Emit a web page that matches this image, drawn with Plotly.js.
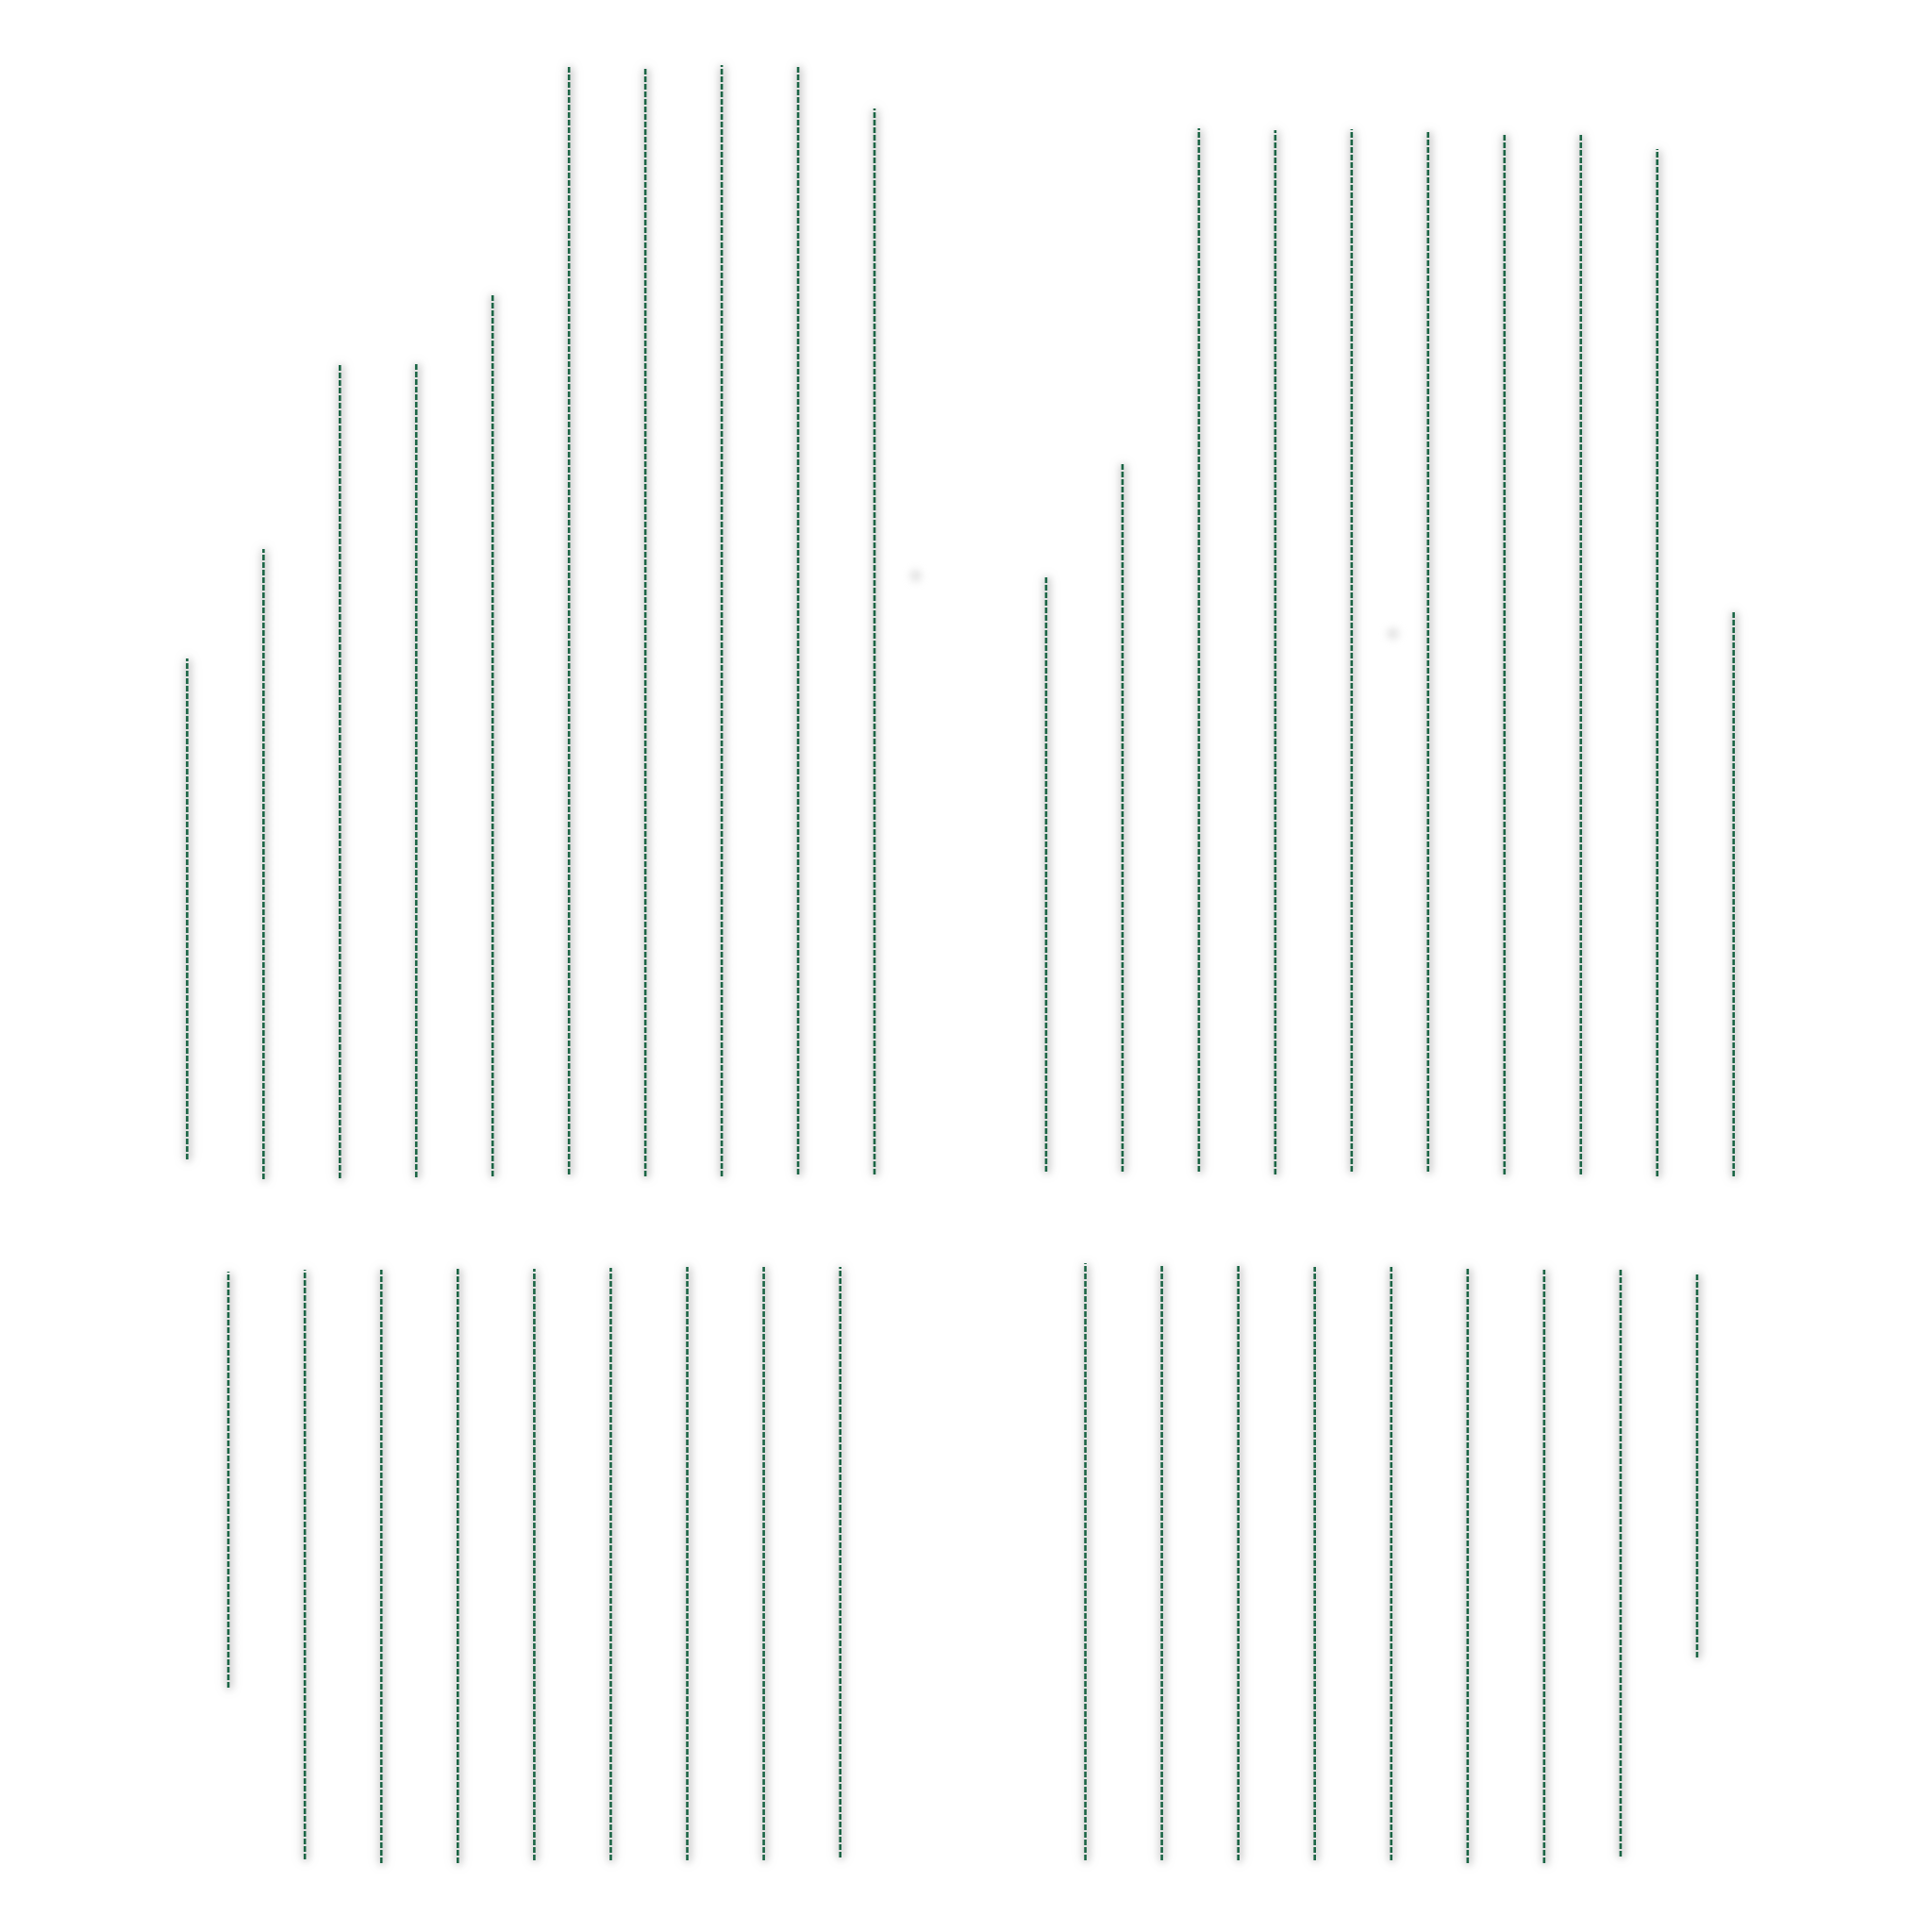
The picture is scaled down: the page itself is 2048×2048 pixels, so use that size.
<!DOCTYPE html>
<html>
<head>
<meta charset="utf-8">
<script src="https://cdn.plot.ly/plotly-3.0.1.min.js"></script>
<style>
  html, body { margin: 0; padding: 0; background: #fff; }
  #plot { width: 2048px; height: 2048px; }
  #plot .scatterlayer .js-line {
    filter: drop-shadow(1px 1px 4px rgba(0,0,0,0.5)) drop-shadow(0 0 6px rgba(0,0,0,0.25));
  }
  #plot .scatterlayer .point { filter: blur(4px); }
</style>
</head>
<body>
<div id="plot"></div>
<script>
// top row: stems rising from the baseline
var topLeftLow   = [3.1, 1.0, 1.1, 1.2, 1.3, 1.5, 1.3, 1.3, 1.5, 1.5];
var topLeftHigh  = [56.2, 67.8, 87.3, 87.4, 94.9, 119.0, 118.9, 119.1, 119.0, 114.5];
var topRightLow  = [1.8, 1.8, 1.8, 1.5, 1.8, 1.8, 1.5, 1.5, 1.3, 1.3];
var topRightHigh = [64.8, 76.9, 112.4, 112.2, 112.3, 112.2, 111.9, 111.9, 110.2, 61.1];

// bottom row: stems hanging from the top
var botLeftLow   = [20.1, 1.9, 1.5, 1.5, 1.8, 1.8, 1.8, 1.8, 2.1];
var botLeftHigh  = [64.2, 64.4, 64.4, 64.5, 64.5, 64.6, 64.7, 64.7, 64.7];
var botRightLow  = [1.8, 1.8, 1.8, 1.8, 1.8, 1.5, 1.5, 2.2, 23.3];
var botRightHigh = [65.1, 64.9, 65.0, 64.7, 64.7, 64.6, 64.4, 64.4, 64.1];

// two faint dots (percent of page)
var dotX = [47.4, 72.1];
var dotY = [70.2, 67.2];

var lineColor = '#1a6444';

function stems(low, high, xa, ya) {
  var x = [], y = [];
  for (var i = 0; i < low.length; i++) {
    x.push(i, i, null);
    y.push(low[i], high[i], null);
  }
  return {
    x: x, y: y,
    xaxis: xa, yaxis: ya,
    type: 'scatter',
    mode: 'lines',
    connectgaps: false,
    line: {color: lineColor, width: 2.6, dash: '6px,2px'},
    hoverinfo: 'skip',
    showlegend: false
  };
}

var data = [
  stems(topLeftLow, topLeftHigh, 'x', 'y'),
  stems(topRightLow, topRightHigh, 'x2', 'y2'),
  stems(botLeftLow, botLeftHigh, 'x3', 'y3'),
  stems(botRightLow, botRightHigh, 'x4', 'y4'),
  {
    x: dotX, y: dotY,
    xaxis: 'x5', yaxis: 'y5',
    type: 'scatter',
    mode: 'markers',
    marker: {size: 12, color: 'rgba(190,190,190,0.5)'},
    hoverinfo: 'skip',
    showlegend: false
  }
];

function hidden(domain, range, anchor) {
  return {domain: domain, range: range, anchor: anchor, visible: false, fixedrange: true};
}

var layout = {
  width: 2048,
  height: 2048,
  margin: {l: 0, r: 0, t: 0, b: 0},
  paper_bgcolor: '#fff',
  plot_bgcolor: 'rgba(0,0,0,0)',
  xaxis:  hidden([0.0771, 0.4724], [-0.5, 9.5], 'y'),
  yaxis:  hidden([0.3848, 0.9707], [0, 120], 'x'),
  xaxis2: hidden([0.5217, 0.9171], [-0.5, 9.5], 'y2'),
  yaxis2: hidden([0.3848, 0.9707], [0, 120], 'x2'),
  xaxis3: hidden([0.0984, 0.4547], [-0.5, 8.5], 'y3'),
  yaxis3: hidden([0.0283, 0.3506], [0, 66], 'x3'),
  xaxis4: hidden([0.5420, 0.8982], [-0.5, 8.5], 'y4'),
  yaxis4: hidden([0.0283, 0.3506], [0, 66], 'x4'),
  xaxis5: hidden([0, 1], [0, 100], 'y5'),
  yaxis5: hidden([0, 1], [0, 100], 'x5')
};

Plotly.newPlot('plot', data, layout, {staticPlot: true, displayModeBar: false});
</script>
</body>
</html>
